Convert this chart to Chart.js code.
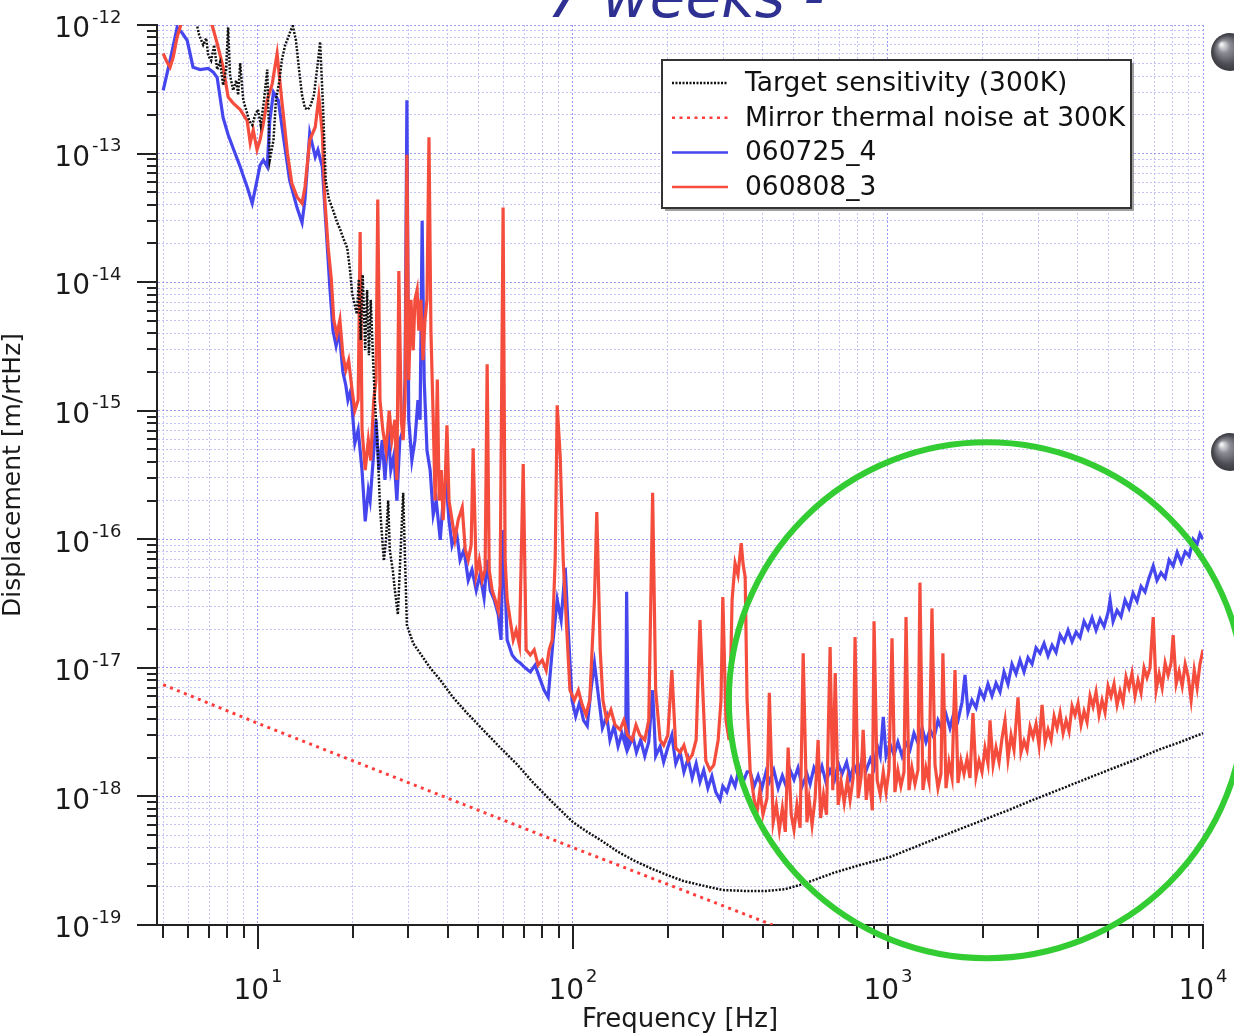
<!DOCTYPE html>
<html>
<head>
<meta charset="utf-8">
<script src="https://cdn.jsdelivr.net/npm/chart.js@4.4.1/dist/chart.umd.min.js"></script>
<style>
  html, body { margin: 0; padding: 0; background: #fff; }
  canvas { display: block; }
</style>
</head>
<body>
<canvas id="chart" width="1234" height="1036"></canvas>
<script>
// [frequency Hz, displacement m/rtHz]

const targetSensitivity = [
  [6.35,1.1e-12],[6.5,8.4e-13],[6.7,7.0e-13],[6.85,7.9e-13],[6.95,5.8e-13],[7.1,5.3e-13],[7.26,7.0e-13],
  [7.42,4.5e-13],[7.58,5.15e-13],[7.75,3.4e-13],[7.92,4.5e-13],[8.04,9.6e-13],[8.15,4.1e-13],[8.34,3.1e-13],
  [8.53,3.7e-13],[8.65,2.85e-13],[8.78,5.06e-13],[8.98,2.6e-13],[9.17,2.2e-13],[9.38,1.8e-13],[9.59,1.67e-13],
  [9.8,2.0e-13],[10.0,2.2e-13],[10.2,1.67e-13],[10.45,2.6e-13],[10.7,4.5e-13],[10.9,8.9e-14],[11.2,1.27e-13],
  [11.4,2.6e-13],[11.7,3.7e-13],[11.9,5.3e-13],[12.2,7.0e-13],[12.45,7.9e-13],[12.7,9.1e-13],[12.9,9.8e-13],
  [13.2,7.6e-13],[13.5,4.5e-13],[13.8,2.85e-13],[14.1,2.26e-13],[14.4,2.2e-13],[14.7,2.38e-13],[15.05,2.85e-13],
  [15.4,4.5e-13],[15.75,7.4e-13],[16.1,2.2e-13],[16.4,6.2e-14],[16.8,4.4e-14],[17.3,3.65e-14],[17.8,2.95e-14],
  [18.2,2.6e-14],[18.75,2.13e-14],[19.2,1.85e-14],[19.6,1.24e-14],[19.9,8.2e-15],[20.3,6.6e-15],[20.6,5.65e-15],
  [20.9,1.05e-14],[21.2,3.55e-15],[21.5,1.14e-14],[21.9,2.95e-15],[22.2,8.7e-15],[22.5,2.7e-15],[22.8,7.3e-15],
  [23.2,2.47e-15],[23.5,1.21e-15],[24.0,4.9e-16],[24.4,1.77e-16],[24.8,1.0e-16],[25.1,6.8e-17],[25.5,1.0e-16],
  [25.9,2.0e-16],[26.2,8.3e-17],[26.8,5.7e-17],[27.2,4.0e-17],[27.8,2.6e-17],[28.2,5.8e-17],[28.9,2.3e-16],
  [29.3,6.9e-17],[29.7,2.15e-17],[31.1,1.55e-17],[32.7,1.3e-17],[35.2,1.0e-17],[37.9,8.05e-18],[41.6,5.9e-18],
  [46.1,4.45e-18],[51.8,3.3e-18],[58.7,2.4e-18],[66.7,1.76e-18],[74.7,1.28e-18],[86.5,8.9e-19],[100,6.3e-19],
  [111,5.3e-19],[122,4.6e-19],[138,3.75e-19],[155,3.2e-19],[176,2.77e-19],[199,2.45e-19],[224,2.2e-19],
  [253,2.05e-19],[299,1.87e-19],[352,1.84e-19],[413,1.84e-19],[471,1.9e-19],[526,2.05e-19],[595,2.28e-19],
  [670,2.54e-19],[816,2.93e-19],[1015,3.38e-19],[1174,3.9e-19],[1389,4.6e-19],[1668,5.5e-19],[2003,6.55e-19],
  [2404,7.8e-19],[2887,9.4e-19],[3466,1.12e-18],[4162,1.34e-18],[4997,1.6e-18],[6001,1.9e-18],[7206,2.3e-18],
  [8470,2.65e-18],[10000,3.1e-18]
];

const mirrorThermal = [[5.0,7.4e-18],[10,3.7e-18],[100,4.0e-19],[430,1.0e-19]];

const run060725 = [
  [5.0,3.1e-13],[5.26,5.3e-13],[5.54,9.6e-13],[5.74,8.7e-13],[5.96,7.6e-13],[6.22,4.7e-13],[6.55,4.5e-13],
  [6.95,4.6e-13],[7.21,4.3e-13],[7.42,3.9e-13],[7.75,1.9e-13],[8.04,1.4e-13],[8.34,1.1e-13],[8.78,7.9e-14],
  [9.04,6.4e-14],[9.24,5.5e-14],[9.59,4.1e-14],[9.93,6.2e-14],[10.15,8.1e-14],[10.4,8.9e-14],[10.7,7.9e-14],
  [10.9,1.8e-13],[11.2,3.0e-13],[11.6,2.6e-13],[12.0,1.44e-13],[12.6,6.2e-14],[13.3,3.8e-14],[13.8,2.9e-14],
  [14.1,4.4e-14],[14.6,1.44e-13],[15.2,9.4e-14],[15.5,1.07e-13],[16.0,7.9e-14],[16.6,1.87e-14],[16.9,9.3e-15],
  [17.3,4.2e-15],[17.7,3.2e-15],[18.1,4.2e-15],[18.6,2.0e-15],[19.0,1.58e-15],[19.3,1.21e-15],[19.7,1.44e-15],
  [20.3,5.6e-16],[20.8,7.1e-16],[21.4,3.4e-16],[21.9,1.38e-16],[22.4,2.4e-16],[22.7,2.0e-16],[23.2,4.1e-16],
  [23.7,8.5e-16],[24.2,3.45e-16],[24.8,5.9e-16],[25.3,2.9e-16],[25.9,7.1e-16],[26.4,3.45e-16],[27.0,4.5e-16],
  [27.6,2.0e-16],[28.2,5.9e-16],[28.9,7.1e-16],[29.3,1.73e-15],[29.7,2.6e-13],[30.1,8.5e-16],[30.8,4.1e-16],
  [31.5,5.9e-16],[32.2,1.21e-15],[32.7,8.5e-16],[33.2,3.0e-14],[33.7,1.73e-15],[34.4,4.9e-16],[35.2,3.45e-16],
  [36.0,1.55e-16],[36.8,2.0e-16],[37.9,9.9e-17],[38.7,2.0e-16],[39.5,2.9e-16],[40.4,1.41e-16],[41.3,9.0e-17],
  [42.6,1.18e-16],[43.8,6.9e-17],[45.1,8.3e-17],[46.5,4.8e-17],[47.8,5.8e-17],[49.3,4.0e-17],[50.7,5.3e-17],
  [52.2,3.5e-17],[53.4,6.9e-17],[54.6,4.0e-17],[56.2,3.4e-17],[57.9,2.6e-17],[59.1,1.65e-17],[60.0,1.18e-16],
  [61.8,1.65e-17],[64.1,1.26e-17],[66.0,1.15e-17],[68.0,1.09e-17],[70.5,1.0e-17],[73.2,9.3e-18],[75.8,1.05e-17],
  [78.7,8.1e-18],[81.0,6.7e-18],[83.4,5.9e-18],[86.5,1.65e-17],[89.1,3.4e-17],[91.7,2.35e-17],[94.5,6.0e-17],
  [96.6,1.96e-17],[99.3,5.6e-18],[102,4.2e-18],[105,5.4e-18],[108,3.9e-18],[111,3.53e-18],[114,6.7e-18],
  [117,1.09e-17],[120,6.5e-18],[124,3.4e-18],[128,4.2e-18],[131,2.75e-18],[135,3.53e-18],[139,2.45e-18],
  [143,3.1e-18],[147,2.45e-18],[148,3.9e-17],[150,2.4e-18],[155,2.9e-18],[159,2.2e-18],[164,2.75e-18],
  [169,2.06e-18],[174,2.65e-18],[179,6.7e-18],[183,2.06e-18],[189,2.45e-18],[194,1.85e-18],[200,2.4e-18],
  [206,3.0e-18],[212,1.8e-18],[219,2.2e-18],[225,1.55e-18],[232,1.96e-18],[239,1.39e-18],[246,1.8e-18],
  [253,1.3e-18],[260,1.6e-18],[268,1.16e-18],[276,1.44e-18],[284,1.08e-18],[293,9.4e-19],[299,1.2e-18],
  [308,1.08e-18],[318,1.39e-18],[327,1.2e-18],[337,1.67e-18],[347,1.3e-18],[357,1.55e-18],[365,1.55e-18],
  [376,1.2e-18],[387,1.45e-18],[398,1.16e-18],[410,1.55e-18],[420,1.3e-18],[434,1.6e-18],[448,1.16e-18],
  [462,1.45e-18],[475,1.2e-18],[489,1.6e-18],[503,1.35e-18],[518,1.67e-18],[534,1.2e-18],[553,1.5e-18],
  [566,1.25e-18],[582,1.67e-18],[600,1.4e-18],[617,1.72e-18],[635,1.3e-18],[655,1.6e-18],[676,1.34e-18],
  [695,1.8e-18],[715,1.5e-18],[739,1.85e-18],[758,1.39e-18],[780,1.75e-18],[804,1.44e-18],[828,1.96e-18],
  [853,1.6e-18],[879,1.96e-18],[903,1.67e-18],[924,2.5e-18],[945,2.06e-18],[966,4.15e-18],[986,2.06e-18],
  [1015,2.55e-18],[1045,2.1e-18],[1075,2.65e-18],[1108,2.06e-18],[1141,2.6e-18],[1174,2.3e-18],[1209,3.1e-18],
  [1245,2.6e-18],[1283,3.4e-18],[1320,2.65e-18],[1360,3.3e-18],[1400,2.85e-18],[1441,3.9e-18],[1484,3.3e-18],
  [1528,4.35e-18],[1573,3.4e-18],[1620,4.5e-18],[1668,3.9e-18],[1718,5.4e-18],[1756,8.8e-18],[1794,4.5e-18],
  [1847,5.6e-18],[1903,4.9e-18],[1959,6.7e-18],[2017,5.8e-18],[2077,7.5e-18],[2139,6.05e-18],[2203,7.6e-18],
  [2268,6.5e-18],[2335,9.3e-18],[2404,7.5e-18],[2475,1.07e-17],[2550,9.0e-18],[2625,1.15e-17],[2703,9.3e-18],
  [2783,1.2e-17],[2866,1.07e-17],[2951,1.43e-17],[3039,1.3e-17],[3129,1.55e-17],[3222,1.24e-17],[3318,1.5e-17],
  [3416,1.32e-17],[3518,1.8e-17],[3622,1.6e-17],[3729,1.96e-17],[3840,1.6e-17],[3955,1.9e-17],[4072,1.72e-17],
  [4192,2.3e-17],[4317,2.0e-17],[4444,2.45e-17],[4576,1.96e-17],[4713,2.4e-17],[4853,2.1e-17],[4997,2.7e-17],
  [5070,3.37e-17],[5182,2.3e-17],[5335,2.8e-17],[5493,2.5e-17],[5656,3.37e-17],[5823,2.9e-17],[5996,3.8e-17],
  [6174,3.3e-17],[6357,4.3e-17],[6545,3.9e-17],[6739,5.0e-17],[6950,6.2e-17],[7145,4.8e-17],[7357,5.5e-17],
  [7582,5.0e-17],[7807,6.9e-17],[8040,6.2e-17],[8280,7.9e-17],[8530,6.6e-17],[8780,8.0e-17],[9040,7.4e-17],
  [9310,1.0e-16],[9580,9.2e-17],[9780,1.1e-16],[10000,1.0e-16]
];

const run060808 = [
  [5.0,6.0e-13],[5.15,5.1e-13],[5.26,4.7e-13],[5.38,5.6e-13],[5.54,8.1e-13],[5.66,9.6e-13],[5.79,1.2e-12],
  [6.31,1.2e-12],[6.8,1.1e-12],[7.15,1.0e-12],[7.42,7.2e-13],[7.75,4.7e-13],[8.04,2.75e-13],[8.34,2.47e-13],
  [8.78,2.2e-13],[9.24,1.8e-13],[9.45,1.21e-13],[9.66,1.52e-13],[9.93,1.07e-13],[10.15,1.27e-13],[10.4,1.72e-13],
  [10.7,2.6e-13],[11.1,3.5e-13],[11.5,6.0e-13],[11.9,2.6e-13],[12.4,1.01e-13],[12.8,5.9e-14],[13.3,4.6e-14],
  [13.8,4.1e-14],[14.1,5.5e-14],[14.6,1.27e-13],[15.2,1.61e-13],[15.6,2.75e-13],[16.0,1.44e-13],[16.3,4.4e-14],
  [16.7,1.87e-14],[17.1,1.04e-14],[17.4,5.1e-15],[17.8,3.9e-15],[18.2,5.1e-15],[18.6,2.7e-15],[19.0,2.07e-15],
  [19.4,2.47e-15],[19.9,1.44e-15],[20.3,1.0e-15],[20.8,1.21e-15],[21.1,2.45e-14],[21.4,7.1e-16],[21.9,3.45e-16],
  [22.4,5.9e-16],[22.8,4.1e-16],[23.3,1.21e-15],[23.7,1.73e-15],[24.0,4.4e-14],[24.4,1.21e-15],[24.9,7.1e-16],
  [25.5,4.9e-16],[26.1,1.0e-15],[26.6,5.9e-16],[27.2,8.5e-16],[27.6,2.9e-16],[28.0,1.22e-14],[28.5,8.5e-16],
  [28.9,5.9e-16],[29.3,1.21e-15],[29.7,9.8e-14],[30.1,1.73e-15],[30.6,7.3e-15],[31.1,2.95e-15],[31.5,7.3e-15],
  [32.0,8.7e-15],[32.4,4.2e-15],[32.9,7.3e-15],[33.4,2.47e-15],[33.9,5.1e-15],[34.4,7.3e-15],[34.9,1.34e-13],
  [35.4,4.2e-15],[36.0,8.5e-16],[36.5,2.0e-16],[37.1,1.75e-15],[37.6,2.0e-16],[38.2,3.45e-16],[38.7,1.41e-16],
  [39.3,2.9e-16],[39.8,7.7e-16],[40.4,2.0e-16],[41.3,1.41e-16],[42.2,1.0e-16],[43.2,1.41e-16],[44.5,1.77e-16],
  [45.5,8.3e-17],[46.5,6.9e-17],[47.5,9.0e-17],[48.2,5.1e-16],[49.3,5.3e-17],[50.4,6.9e-17],[51.5,4.8e-17],
  [52.6,5.8e-17],[53.4,2.3e-15],[54.2,5.8e-17],[55.4,4.0e-17],[56.6,3.4e-17],[57.9,2.8e-17],[58.7,4.4e-17],
  [60.0,3.8e-14],[60.9,6.9e-17],[61.8,3.4e-17],[63.2,2.35e-17],[64.6,1.65e-17],[66.0,1.96e-17],[67.6,1.5e-17],
  [69.5,3.85e-16],[71.0,1.38e-17],[73.2,1.26e-17],[75.3,1.38e-17],[77.5,1.05e-17],[79.9,1.15e-17],[82.2,9.6e-18],
  [84.0,1.38e-17],[85.9,1.65e-17],[87.8,6.9e-17],[89.1,1.1e-15],[91.1,4.35e-16],[93.1,6.9e-17],[95.2,2.35e-17],
  [97.8,6.7e-18],[101,5.6e-18],[104,6.7e-18],[107,5.15e-18],[110,4.3e-18],[113,5.6e-18],[117,3.4e-17],
  [119,1.63e-16],[122,1.38e-17],[124.5,5.6e-18],[128,3.9e-18],[132,4.7e-18],[136,3.6e-18],[141,3.3e-18],
  [145,3.9e-18],[149,3.0e-18],[154,2.75e-18],[158.5,3.6e-18],[163,3.0e-18],[169,2.75e-18],[174,3.9e-18],
  [179,2.3e-16],[183,6.7e-18],[189,2.75e-18],[194,2.5e-18],[200,3.0e-18],[206,9.6e-18],[212,2.38e-18],
  [219,2.2e-18],[225,2.5e-18],[232,1.9e-18],[239,2.1e-18],[246,2.75e-18],[253,2.35e-17],[259,5.6e-18],
  [264,1.9e-18],[272,1.6e-18],[280,1.76e-18],[289,2.75e-18],[295,5.6e-18],[299,3.55e-17],[306,3.9e-18],
  [313,2.75e-18],[320,3.4e-17],[327,6.5e-17],[334,5.3e-17],[342,9.35e-17],[347,6.3e-17],[352,5.1e-17],
  [357,5.6e-18],[365,1.6e-18],[376,9.4e-19],[384,7.55e-19],[392,1.12e-18],[401,7.2e-19],[413,9.7e-19],
  [420,6.4e-18],[432,6.3e-19],[442,8.6e-19],[452,5.5e-19],[462,8.1e-19],[472,5.3e-19],[482,2.4e-18],
  [493,7.2e-19],[503,5.5e-19],[514,8.6e-19],[526,5.7e-19],[538,1.3e-17],[553,6.3e-19],[562,9.4e-19],
  [574,6.0e-19],[587,9.7e-19],[600,2.75e-18],[611,6.8e-19],[624,1.03e-18],[638,7.2e-19],[655,1.45e-17],
  [668,1.12e-18],[680,9.1e-18],[695,8.6e-19],[710,1.3e-18],[726,8.9e-19],[743,1.34e-18],[758,9.4e-19],
  [775,1.39e-18],[786,1.74e-17],[804,9.7e-19],[822,1.44e-18],[834,3.3e-18],[853,9.4e-19],[872,1.5e-18],
  [892,7.8e-19],[903,2.3e-17],[924,1.34e-18],[945,1.03e-18],[966,1.55e-18],[986,1.08e-18],[1007,1.6e-18],
  [1030,1.7e-17],[1052,1.08e-18],[1075,1.6e-18],[1099,1.2e-18],[1124,1.55e-18],[1141,2.48e-17],[1166,1.12e-18],
  [1191,1.67e-18],[1218,1.25e-18],[1245,1.6e-18],[1263,4.6e-17],[1291,1.12e-18],[1320,1.67e-18],[1349,1.3e-18],
  [1379,2.9e-17],[1410,1.76e-18],[1441,1.16e-18],[1473,1.5e-18],[1494,1.3e-17],[1528,1.16e-18],[1562,1.85e-18],
  [1597,1.4e-18],[1632,9.6e-18],[1668,1.27e-18],[1705,1.9e-18],[1743,1.5e-18],[1782,1.96e-18],[1821,1.39e-18],
  [1861,4.45e-18],[1903,1.44e-18],[1945,1.9e-18],[1988,1.55e-18],[2032,2.38e-18],[2077,1.8e-18],[2108,3.9e-18],
  [2156,1.76e-18],[2203,2.4e-18],[2252,1.85e-18],[2302,2.85e-18],[2352,3.9e-18],[2404,1.96e-18],[2458,3.0e-18],
  [2512,2.3e-18],[2587,5.9e-18],[2644,2.2e-18],[2703,2.7e-18],[2763,2.3e-18],[2824,3.47e-18],[2887,2.9e-18],
  [2951,3.66e-18],[3016,2.5e-18],[3084,5.15e-18],[3153,2.65e-18],[3222,3.3e-18],[3294,2.75e-18],[3367,4.2e-18],
  [3441,3.4e-18],[3518,4.45e-18],[3596,3.1e-18],[3676,3.9e-18],[3757,3.2e-18],[3840,5.05e-18],[3925,4.3e-18],
  [4012,5.3e-18],[4101,3.6e-18],[4192,4.6e-18],[4285,3.8e-18],[4380,6.05e-18],[4477,5.0e-18],[4576,6.5e-18],
  [4677,4.3e-18],[4781,5.6e-18],[4887,4.5e-18],[4995,7.2e-18],[5106,6.0e-18],[5219,7.5e-18],[5335,5.15e-18],
  [5453,6.6e-18],[5574,5.4e-18],[5697,8.5e-18],[5823,7.0e-18],[5952,9.1e-18],[6084,6.05e-18],[6219,8.0e-18],
  [6357,6.4e-18],[6498,1.0e-17],[6642,8.4e-18],[6789,1.0e-17],[6950,2.48e-17],[7100,6.7e-18],[7257,9.0e-18],
  [7418,7.0e-18],[7582,1.09e-17],[7750,8.8e-18],[7922,1.1e-17],[8040,1.8e-17],[8220,7.5e-18],[8400,9.4e-18],
  [8590,7.2e-18],[8780,1.07e-17],[8970,8.6e-18],[9170,5.6e-18],[9380,9.6e-18],[9580,7.0e-18],[9780,1.07e-17],
  [10000,1.38e-17]
];

const seriesLabels = ['Target sensitivity (300K)', 'Mirror thermal noise at 300K', '060725_4', '060808_3'];
const xDecadeExps = [1, 2, 3, 4];
const yDecadeExps = [-19, -18, -17, -16, -15, -14, -13, -12];
const xRange = [4.78, 10000];
const yRange = [1e-19, 1e-12];
const titleText = '7 weeks -';
const highlight = { x: 2060, y: 5.6e-18, r: 258 };  // green ring, centre in data units

const FONT = '"DejaVu Sans", sans-serif';

function logTicks(min, max) {
  const ticks = [];
  for (let e = Math.floor(Math.log10(min)); e <= Math.ceil(Math.log10(max)); e++) {
    for (let m = 1; m < 10; m++) {
      const v = m * Math.pow(10, e);
      if (v >= min * 0.999 && v <= max * 1.001) ticks.push({ value: v, major: m === 1 });
    }
  }
  return ticks;
}

function toXY(pairs) {
  return pairs.map(p => ({ x: p[0], y: p[1] }));
}

function sphere(ctx, cx, cy, r) {
  const g = ctx.createRadialGradient(cx - r * 0.45, cy - r * 0.4, r * 0.05, cx, cy, r);
  g.addColorStop(0, '#f2f2f4');
  g.addColorStop(0.3, '#8c8c94');
  g.addColorStop(0.75, '#4c4c54');
  g.addColorStop(1, '#3a3a40');
  ctx.fillStyle = g;
  ctx.beginPath();
  ctx.arc(cx, cy, r, 0, Math.PI * 2);
  ctx.fill();
}

const decor = {
  id: 'decor',
  beforeDraw(chart) {
    const ctx = chart.ctx;
    ctx.save();
    ctx.fillStyle = '#fff';
    ctx.fillRect(0, 0, chart.width, chart.height);
    ctx.restore();
  },
  afterDraw(chart) {
    const ctx = chart.ctx;
    const xs = chart.scales.x;
    const ys = chart.scales.y;
    const area = chart.chartArea;
    ctx.save();

    // tick marks
    ctx.strokeStyle = '#222';
    ctx.lineWidth = 2;
    ys.ticks.forEach(t => {
      const y = Math.round(ys.getPixelForValue(t.value));
      const len = t.major ? 20 : 10;
      ctx.beginPath();
      ctx.moveTo(area.left - len, y);
      ctx.lineTo(area.left, y);
      ctx.stroke();
    });
    xs.ticks.forEach(t => {
      const x = Math.round(xs.getPixelForValue(t.value));
      const len = t.major ? 24 : 13;
      ctx.beginPath();
      ctx.moveTo(x, area.bottom);
      ctx.lineTo(x, area.bottom + len);
      ctx.stroke();
    });

    // decade labels 10^n
    ctx.fillStyle = '#1a1a1a';
    ctx.textBaseline = 'middle';
    yDecadeExps.forEach(e => {
      const y = ys.getPixelForValue(Math.pow(10, e));
      ctx.font = '28px ' + FONT;
      ctx.textAlign = 'right';
      ctx.fillText('10', 90, y + 5);
      ctx.font = '18px ' + FONT;
      ctx.textAlign = 'left';
      ctx.fillText(String(e), 92, y - 7);
    });
    xDecadeExps.forEach(e => {
      const x = xs.getPixelForValue(Math.pow(10, e));
      ctx.font = '28px ' + FONT;
      const w1 = ctx.measureText('10').width;
      ctx.font = '18px ' + FONT;
      const w2 = ctx.measureText(String(e)).width;
      const x0 = x - (w1 + 2 + w2) / 2;
      ctx.textAlign = 'left';
      ctx.font = '28px ' + FONT;
      ctx.fillText('10', x0, 992);
      ctx.font = '18px ' + FONT;
      ctx.fillText(String(e), x0 + w1 + 2, 977);
    });

    // legend box
    const lx = 662, ly = 60, lw = 469, lh = 148;
    ctx.fillStyle = '#a0a0a0';
    ctx.fillRect(lx + 3, ly + 3, lw, lh);
    ctx.fillStyle = '#fff';
    ctx.fillRect(lx, ly, lw, lh);
    ctx.strokeStyle = '#333';
    ctx.lineWidth = 2;
    ctx.strokeRect(lx, ly, lw, lh);
    chart.data.datasets.forEach((ds, i) => {
      const y = 83 + i * 34.7;
      ctx.save();
      ctx.strokeStyle = ds.borderColor;
      ctx.lineWidth = Math.min(ds.borderWidth, 2.5);
      ctx.setLineDash(ds.borderDash || []);
      ctx.beginPath();
      ctx.moveTo(672, y);
      ctx.lineTo(728, y);
      ctx.stroke();
      ctx.restore();
      ctx.fillStyle = '#111';
      ctx.font = '26.5px ' + FONT;
      ctx.textAlign = 'left';
      ctx.textBaseline = 'middle';
      ctx.fillText(ds.label, 745, y + 1);
    });

    // green highlight ring
    const cx = xs.getPixelForValue(highlight.x);
    const cy = ys.getPixelForValue(highlight.y);
    ctx.strokeStyle = '#33cc33';
    ctx.lineWidth = 6;
    ctx.beginPath();
    ctx.arc(cx, cy, highlight.r, 0, Math.PI * 2);
    ctx.stroke();

    // slide bullets and title peeking in from the top
    sphere(ctx, 1230, 52, 19);
    sphere(ctx, 1230, 452, 19);
    ctx.fillStyle = '#2e3192';
    ctx.font = 'italic 58px ' + FONT;
    ctx.textAlign = 'left';
    ctx.textBaseline = 'alphabetic';
    ctx.fillText(titleText, 547, 17);

    ctx.restore();
  }
};

function gridColor(ctx) {
  return ctx.tick && ctx.tick.major ? '#9a9af0' : '#c4c4f6';
}

new Chart(document.getElementById('chart'), {
  type: 'line',
  data: {
    datasets: [
      {
        label: seriesLabels[0],
        data: toXY(targetSensitivity),
        borderColor: '#111',
        borderWidth: 2.5,
        borderDash: [2, 1.5],
        order: 0
      },
      {
        label: seriesLabels[1],
        data: toXY(mirrorThermal),
        borderColor: '#ff3d3d',
        borderWidth: 3,
        borderDash: [3, 4.5],
        order: 1
      },
      {
        label: seriesLabels[2],
        data: toXY(run060725),
        borderColor: '#4646ee',
        borderWidth: 3.2,
        order: 3
      },
      {
        label: seriesLabels[3],
        data: toXY(run060808),
        borderColor: '#f54d3d',
        borderWidth: 3.2,
        order: 2
      }
    ]
  },
  options: {
    responsive: false,
    devicePixelRatio: 1,
    animation: false,
    events: [],
    elements: { point: { radius: 0 }, line: { tension: 0 } },
    layout: { padding: { left: 0, right: 31, top: 25, bottom: 0 } },
    plugins: { legend: { display: false }, tooltip: { enabled: false } },
    scales: {
      x: {
        type: 'logarithmic',
        position: 'bottom',
        min: xRange[0],
        max: xRange[1],
        afterBuildTicks: s => { s.ticks = logTicks(5, 10000); },
        afterFit: s => { s.height = 111; },
        ticks: { display: false },
        grid: { color: gridColor, lineWidth: 1, drawTicks: false },
        border: { display: true, color: '#222', width: 2, dash: [2, 2] },
        title: {
          display: true,
          text: 'Frequency [Hz]',
          color: '#1a1a1a',
          font: { family: 'DejaVu Sans', size: 26, lineHeight: 1.2 },
          padding: { top: 0, bottom: 0 }
        }
      },
      y: {
        type: 'logarithmic',
        position: 'left',
        min: yRange[0],
        max: yRange[1],
        afterBuildTicks: s => { s.ticks = logTicks(yRange[0], yRange[1]); },
        afterFit: s => { s.width = 157; },
        ticks: { display: false },
        grid: { color: gridColor, lineWidth: 1, drawTicks: false },
        border: { display: true, color: '#222', width: 2, dash: [2, 2] },
        title: {
          display: true,
          text: 'Displacement [m/rtHz]',
          color: '#1a1a1a',
          font: { family: 'DejaVu Sans', size: 25, lineHeight: 1.05 },
          padding: { top: 0, bottom: 0 }
        }
      }
    }
  },
  plugins: [decor]
});
</script>
</body>
</html>
